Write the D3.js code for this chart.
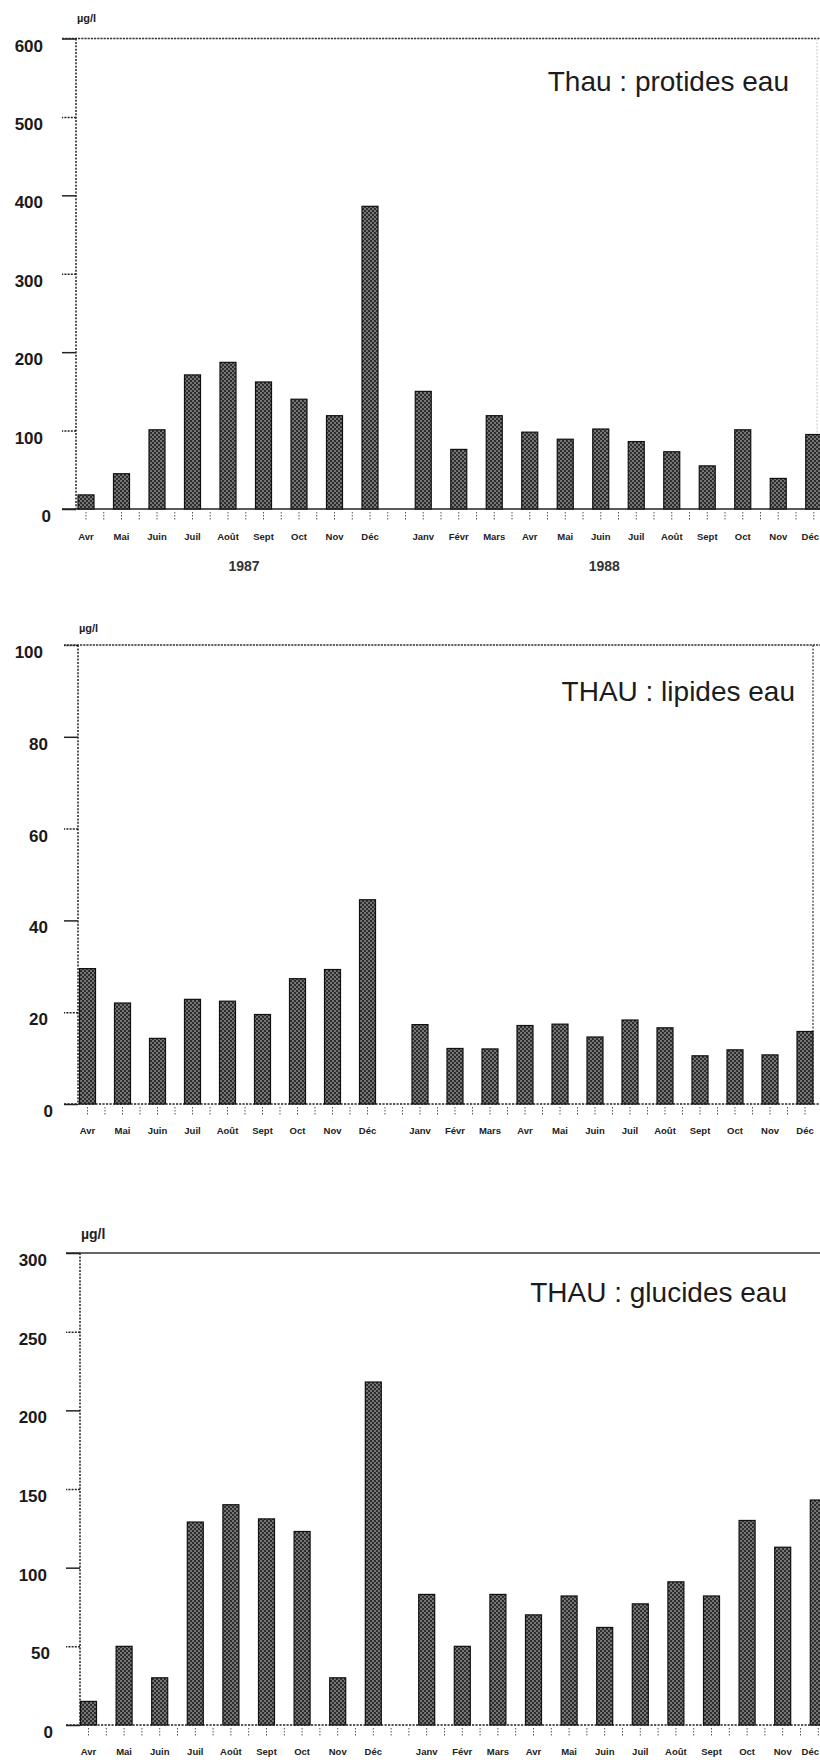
<!DOCTYPE html>
<html>
<head>
<meta charset="utf-8">
<script src="https://cdn.jsdelivr.net/npm/d3@7"></script>
<style>
  html, body { margin: 0; padding: 0; background: #fff; }
  svg { display: block; }
  text { font-family: "Liberation Sans", Arial, Helvetica, sans-serif; }
</style>
</head>
<body>
<svg id="fig" width="820" height="1760"></svg>
<script>
// Monthly sampling, April 1987 – December 1988
const months = ["Avr", "Mai", "Juin", "Juil", "Août", "Sept", "Oct", "Nov", "Déc",
                "Janv", "Févr", "Mars", "Avr", "Mai", "Juin", "Juil", "Août", "Sept", "Oct", "Nov", "Déc"];
const years = ["1987", "1988"];
const unitLabel = "µg/l";

// Concentrations in water (µg/l)
const protides = [18, 45, 101, 171, 187, 162, 140, 119, 386,
                  150, 76, 119, 98, 89, 102, 86, 73, 55, 101, 39, 95];
const lipides  = [29.5, 22, 14.3, 22.8, 22.4, 19.5, 27.3, 29.3, 44.5,
                  17.3, 12.1, 12, 17.1, 17.4, 14.6, 18.3, 16.6, 10.5, 11.8, 10.7, 15.8];
const glucides = [15, 50, 30, 129, 140, 131, 123, 30, 218,
                  83, 50, 83, 70, 82, 62, 77, 91, 82, 130, 113, 143];

const ticksProtides = [0, 100, 200, 300, 400, 500, 600];
const ticksLipides  = [0, 20, 40, 60, 80, 100];
const ticksGlucides = [0, 50, 100, 150, 200, 250, 300];

const titles = ["Thau : protides eau", "THAU : lipides eau", "THAU : glucides eau"];

const svg = d3.select("#fig");
const W = 820;

// halftone fill used for the bars
const defs = svg.append("defs");
const pat = defs.append("pattern")
  .attr("id", "halftone")
  .attr("patternUnits", "userSpaceOnUse")
  .attr("width", 4).attr("height", 4);
pat.append("rect").attr("width", 4).attr("height", 4).attr("fill", "#2e2e2e");
pat.append("circle").attr("cx", 1).attr("cy", 1).attr("r", 0.8).attr("fill", "#cfcfcf");
pat.append("circle").attr("cx", 3).attr("cy", 3).attr("r", 0.8).attr("fill", "#cfcfcf");

// slot position of each month: a half-slot gap separates the two years
const slot = i => (i < 9 ? i : i + 0.5);

function panel(cfg) {
  const g = svg.append("g");
  const y = d3.scaleLinear().domain([0, cfg.max]).range([cfg.base, cfg.top]);
  const x = d3.scaleLinear().domain([0, 20.5]).range([cfg.x0, cfg.x0 + 20.5 * cfg.step]);

  // top frame line
  g.append("line")
    .attr("x1", cfg.axisX - 14).attr("x2", W)
    .attr("y1", cfg.top).attr("y2", cfg.top)
    .attr("stroke", "#333").attr("stroke-width", 1.6)
    .attr("stroke-dasharray", cfg.topDash ? "2.2,1" : null);

  // right frame line
  if (cfg.rightX) {
    g.append("line")
      .attr("x1", cfg.rightX).attr("x2", cfg.rightX)
      .attr("y1", cfg.top).attr("y2", cfg.base)
      .attr("stroke", cfg.rightColor).attr("stroke-width", 1.3)
      .attr("stroke-dasharray", "2,1.5");
  }

  // y axis
  const yAxis = d3.axisLeft(y).tickValues(cfg.ticks).tickSize(14).tickFormat("");
  const ya = g.append("g").attr("transform", `translate(${cfg.axisX},0)`).call(yAxis);
  ya.select(".domain")
    .attr("d", `M0,${cfg.top}V${cfg.base}`)
    .attr("stroke", "#222").attr("stroke-width", 1.5)
    .attr("stroke-dasharray", "2,1.4");
  ya.selectAll(".tick line")
    .attr("stroke", "#222").attr("stroke-width", 1.5)
    .attr("stroke-dasharray", (d, i) => (i % 2 ? "2,1.2" : null));

  // y tick labels (numbers sit slightly below their tick)
  g.selectAll("text.ylab").data(cfg.ticks).enter().append("text")
    .attr("class", "ylab")
    .attr("x", d => cfg.labEnd + (3 - String(d).length) * cfg.labShift)
    .attr("y", d => y(d) + 13)
    .attr("text-anchor", "end")
    .attr("font-size", 17).attr("font-weight", "bold")
    .attr("fill", "#1a1a1a")
    .text(d => d);

  // unit
  g.append("text")
    .attr("x", cfg.axisX + 1).attr("y", cfg.unitY)
    .attr("font-size", cfg.unitSize).attr("font-weight", "bold")
    .attr("fill", "#222")
    .text(unitLabel);

  // x axis baseline
  g.append("line")
    .attr("x1", cfg.axisX - 14).attr("x2", W)
    .attr("y1", cfg.base).attr("y2", cfg.base)
    .attr("stroke", "#222").attr("stroke-width", 1.7)
    .attr("stroke-dasharray", cfg.baseDash ? "2.2,1.3" : null);

  // small ticks every half slot under the baseline
  const halfTicks = d3.range(0, 41.5, 1).map(k => k / 2);
  g.selectAll("line.xt").data(halfTicks).enter().append("line")
    .attr("class", "xt")
    .attr("x1", d => x(d)).attr("x2", d => x(d))
    .attr("y1", cfg.base + 3).attr("y2", cfg.base + 11)
    .attr("stroke", "#555").attr("stroke-width", 1)
    .attr("stroke-dasharray", "1.5,1.5");

  // bars
  g.selectAll("rect.bar").data(cfg.values).enter().append("rect")
    .attr("class", "bar")
    .attr("x", (d, i) => x(slot(i)) - 8)
    .attr("width", 16)
    .attr("y", d => y(d))
    .attr("height", d => cfg.base - y(d))
    .attr("fill", "url(#halftone)")
    .attr("stroke", "#111").attr("stroke-width", 1.2);

  // month labels, kept inside the page at the right edge
  g.selectAll("text.mlab").data(months).enter().append("text")
    .attr("class", "mlab")
    .attr("x", (d, i) => x(slot(i)))
    .attr("y", cfg.monthY)
    .attr("text-anchor", "middle")
    .attr("font-size", 9.5).attr("font-weight", "bold")
    .attr("fill", "#222")
    .text(d => d)
    .each(function () {
      const t = d3.select(this);
      const half = this.getComputedTextLength() / 2;
      const cx = +t.attr("x");
      if (cx + half > W - 1) t.attr("x", W - 1 - half);
    });

  // year labels
  if (cfg.showYears) {
    g.selectAll("text.yr").data(years).enter().append("text")
      .attr("class", "yr")
      .attr("x", (d, i) => x(i === 0 ? 4.45 : 14.6))
      .attr("y", cfg.base + 62)
      .attr("text-anchor", "middle")
      .attr("font-size", 14).attr("font-weight", "bold")
      .attr("fill", "#333")
      .text(d => d);
  }

  // title
  g.append("text")
    .attr("x", cfg.titleX).attr("y", cfg.titleY)
    .attr("text-anchor", "end")
    .attr("font-size", 28)
    .attr("fill", "#1c1c1c")
    .text(cfg.title);
}

panel({
  values: protides, ticks: ticksProtides, max: 600, title: titles[0],
  axisX: 76, top: 38.5, base: 509, x0: 86, step: 35.5,
  labEnd: 43, labShift: 4, unitY: 22, unitSize: 11,
  monthY: 540, showYears: true, titleX: 789, titleY: 91,
  topDash: true, baseDash: false, rightX: 817, rightColor: "#d4d4d4"
});

panel({
  values: lipides, ticks: ticksLipides, max: 100, title: titles[1],
  axisX: 78, top: 645, base: 1104, x0: 87.5, step: 35.0,
  labEnd: 43, labShift: 5, unitY: 632, unitSize: 11,
  monthY: 1134, showYears: false, titleX: 795, titleY: 701,
  topDash: true, baseDash: true, rightX: 813, rightColor: "#444"
});

panel({
  values: glucides, ticks: ticksGlucides, max: 300, title: titles[2],
  axisX: 80, top: 1253, base: 1725, x0: 88.5, step: 35.6,
  labEnd: 47, labShift: 3, unitY: 1239, unitSize: 14,
  monthY: 1755, showYears: false, titleX: 787, titleY: 1302,
  topDash: false, baseDash: true, rightX: null
});
</script>
</body>
</html>
